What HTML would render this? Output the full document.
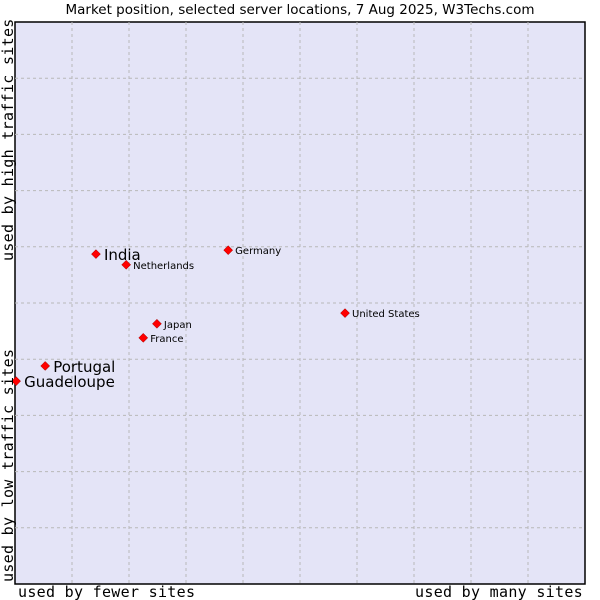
<!DOCTYPE html>
<html><head><meta charset="utf-8"><style>
body{margin:0;background:#fff;width:600px;height:600px;overflow:hidden}
svg{display:block}
</style></head><body>
<svg id="chart" width="600" height="600">
<text x="300" y="14" text-anchor="middle" font-family="'DejaVu Sans',sans-serif" font-size="13.5" fill="#000">Market position, selected server locations, 7 Aug 2025, W3Techs.com</text>
<rect x="15" y="22" width="570" height="562" fill="#e4e4f7" stroke="#000" stroke-width="1.5"/>
<g id="grid"></g>
<g id="points"></g>
<text x="18" y="597" font-family="'DejaVu Sans Mono','Liberation Mono',monospace" font-size="15" letter-spacing="0.3">used by fewer sites</text>
<text x="583" y="597" text-anchor="end" font-family="'DejaVu Sans Mono','Liberation Mono',monospace" font-size="15" letter-spacing="0.3">used by many sites</text>
<text transform="translate(13,582) rotate(-90)" font-family="'DejaVu Sans Mono','Liberation Mono',monospace" font-size="15" letter-spacing="0.3">used by low traffic sites</text>
<text transform="translate(13,261) rotate(-90)" font-family="'DejaVu Sans Mono','Liberation Mono',monospace" font-size="15" letter-spacing="0.3">used by high traffic sites</text>
</svg>
<script>
const names=["India","Netherlands","Germany","United States","Japan","France","Portugal","Guadeloupe"];
const xVals=[1.42,1.95,3.74,5.79,2.49,2.25,0.53,0.02];
const yVals=[5.87,5.68,5.94,4.82,4.63,4.38,3.88,3.61];
const big=[true,false,false,false,false,false,true,true];
const NS="http://www.w3.org/2000/svg";
const X=v=>15+v*57, Y=v=>584-v*56.2;
const grid=document.getElementById('grid'), pts=document.getElementById('points');
for(let i=1;i<10;i++){
  const v=document.createElementNS(NS,'line');
  
  
  v.setAttribute('x1',X(i));v.setAttribute('x2',X(i));v.setAttribute('y1',22);v.setAttribute('y2',584);
  v.setAttribute('stroke','#b8b8b8');v.setAttribute('stroke-dasharray','3,3');grid.appendChild(v);
  const h=document.createElementNS(NS,'line');
  
  
  h.setAttribute('y1',Y(i));h.setAttribute('y2',Y(i));h.setAttribute('x1',15);h.setAttribute('x2',585);
  h.setAttribute('stroke','#b8b8b8');h.setAttribute('stroke-dasharray','3,3');grid.appendChild(h);
}
names.forEach((n,i)=>{
  const x=X(xVals[i]),y=Y(yVals[i]);
  const d=document.createElementNS(NS,'path');
  
  
  d.setAttribute('d',`M${x} ${y-4.5}L${x+4.5} ${y}L${x} ${y+4.5}L${x-4.5} ${y}Z`);
  d.setAttribute('fill','#f00');d.setAttribute('stroke','#900');d.setAttribute('stroke-width','0.5');
  pts.appendChild(d);
  const t=document.createElementNS(NS,'text');
  
  
  t.setAttribute('x',x+(big[i]?8:7));t.setAttribute('y',y+(big[i]?6:4));
  t.setAttribute('font-family',"'DejaVu Sans',sans-serif");
  t.setAttribute('font-size',big[i]?15:10);
  t.textContent=n;pts.appendChild(t);
});
</script>
</body></html>
